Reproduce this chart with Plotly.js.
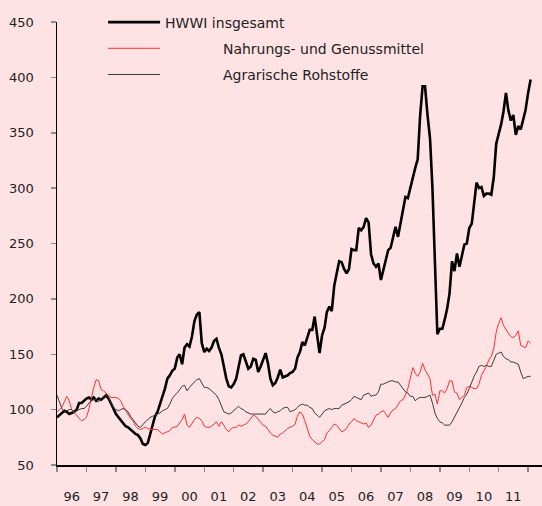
<!DOCTYPE html>
<html><head><meta charset="utf-8">
<script src="https://cdn.plot.ly/plotly-3.0.1.min.js"></script>
<style>html,body{margin:0;padding:0;background:#ffe2e4}</style>
</head><body><div id="chart" style="width:542px;height:506px"></div>
<script>
// Monthly index values, starting January 1996
const startYear = 1996;
const yearLabels = ["96","97","98","99","00","01","02","03","04","05","06","07","08","09","10","11"];
const seriesNames = ["HWWI insgesamt", "Nahrungs- und Genussmittel", "Agrarische Rohstoffe"];

const hwwi = [
  93,95,97,99,98,96,97,98,100,106,106,108,
  110,111,109,111,108,110,109,111,113,110,106,101,
  96,93,90,87,85,84,82,80,78,77,74,69,
  68,70,78,88,94,98,104,112,119,128,131,135,
  137,147,150,141,156,159,157,166,180,186,188,160,
  152,155,153,156,162,164,156,150,139,128,121,120,
  123,128,138,149,150,143,137,139,146,145,134,139,
  146,151,142,128,122,124,129,136,129,130,131,133,
  134,137,147,152,161,158,165,172,172,184,167,151,
  167,174,188,193,189,212,223,234,233,227,223,227,
  245,244,244,264,262,265,273,269,240,232,229,232,
  217,226,235,244,246,256,265,256,267,278,292,291,
  301,311,318,326,365,392,392,366,345,300,230,168,
  173,173,181,191,205,234,225,241,229,240,249,250,
  264,268,285,305,300,301,293,295,295,294,310,340,
  349,358,369,386,370,361,366,348,356,353,362,371,
  386,398
];
const nahrung = [
  98,100,102,107,112,108,100,97,95,92,90,91,
  93,101,111,120,127,126,118,117,115,113,111,111,
  111,110,108,103,99,96,92,90,85,83,82,83,
  84,83,82,82,82,82,80,78,79,80,81,84,
  84,85,88,91,96,86,84,88,91,93,92,90,
  85,84,84,85,87,89,85,89,86,82,80,83,
  84,84,86,85,86,87,89,92,95,94,91,88,
  86,85,82,79,77,76,75,78,79,81,83,84,
  85,87,94,98,96,90,83,76,73,71,69,69,
  71,73,79,81,84,87,86,83,80,81,83,87,
  89,92,90,89,88,87,88,84,86,90,95,96,
  98,99,96,93,97,100,101,104,108,109,113,119,
  128,138,133,130,134,142,136,132,128,113,114,105,
  117,117,115,119,126,126,116,115,109,111,113,120,
  121,120,119,119,123,131,135,139,145,148,155,170,
  178,183,176,172,169,166,165,167,171,158,157,156,
  162,160
];
const agrar = [
  113,106,101,98,99,100,100,98,99,100,101,101,
  103,106,108,109,109,107,110,112,113,111,106,102,
  100,99,100,101,100,98,94,91,87,85,84,87,
  89,91,93,94,95,96,97,99,100,101,105,110,
  113,115,118,121,122,117,120,123,125,127,128,124,
  120,120,119,117,115,113,109,103,98,97,96,97,
  99,101,103,101,100,98,97,96,96,96,96,96,
  96,96,99,101,98,97,98,99,101,102,102,98,
  99,100,102,104,105,104,104,102,101,97,95,93,
  96,99,100,101,100,101,101,101,104,105,106,107,
  109,112,111,110,109,113,114,115,112,113,113,116,
  123,123,124,125,126,126,125,125,122,118,116,115,
  112,112,108,110,111,111,111,112,113,106,97,92,
  89,88,86,86,86,89,93,98,102,106,111,114,
  119,125,130,134,139,140,139,140,139,139,144,150,
  151,152,148,146,145,143,143,142,141,134,128,129,
  130,130
];

function monthDates(n) {
  const out = [];
  for (let i = 0; i < n; i++) {
    const y = startYear + Math.floor(i / 12);
    const m = (i % 12) + 1;
    out.push(y + "-" + String(m).padStart(2, "0") + "-01");
  }
  return out;
}
const pad = "\u00a0".repeat(13);
const bg = "#ffe2e4";
const font = "DejaVu Sans, sans-serif";

const traces = [
  {x: monthDates(hwwi.length), y: hwwi, name: seriesNames[0], legendgroup: "a",
   type: "scatter", mode: "lines", line: {color: "#000000", width: 2.6}},
  {x: monthDates(nahrung.length), y: nahrung, name: pad + seriesNames[1], legendgroup: "b",
   type: "scatter", mode: "lines", line: {color: "#ff3030", width: 1}},
  {x: monthDates(agrar.length), y: agrar, name: pad + seriesNames[2], legendgroup: "c",
   type: "scatter", mode: "lines", line: {color: "#3a3a3a", width: 1}}
];

const layout = {
  width: 542, height: 506,
  paper_bgcolor: bg, plot_bgcolor: bg,
  margin: {l: 57, r: 0, t: 22, b: 41, pad: 0},
  font: {family: font, size: 13, color: "#222"},
  showlegend: true,
  legend: {x: 0.095, y: 1.035, xanchor: "left", yanchor: "top", bgcolor: "rgba(0,0,0,0)",
           font: {family: font, size: 14, color: "#222"}, itemwidth: 52, tracegroupgap: 5,
           traceorder: "grouped"},
  xaxis: {
    type: "date", range: ["1996-01-01", "2012-06-21"],
    tickmode: "array",
    tickvals: yearLabels.map((l, i) => (startYear + i) + "-07-01"),
    ticktext: yearLabels,
    ticks: "", ticklabelstandoff: 18,
    minor: {tickmode: "linear", tick0: "1996-01-01", dtick: "M12", ticks: "outside",
            ticklen: 5, tickwidth: 1.5, tickcolor: "#8a8a8a", showgrid: false},
    showline: true, linecolor: "#000", linewidth: 2,
    showgrid: false, zeroline: false,
    tickfont: {family: font, size: 13, color: "#222"}
  },
  yaxis: {
    range: [50, 450], tickmode: "linear", tick0: 50, dtick: 50,
    ticks: "outside", ticklen: 5, tickwidth: 1.5, tickcolor: "#8a8a8a",
    ticklabelstandoff: 14,
    showline: true, linecolor: "#000", linewidth: 1.5,
    showgrid: false, zeroline: false,
    tickfont: {family: font, size: 13, color: "#222"}
  }
};
Plotly.newPlot("chart", traces, layout, {displayModeBar: false, staticPlot: true});
</script></body></html>
